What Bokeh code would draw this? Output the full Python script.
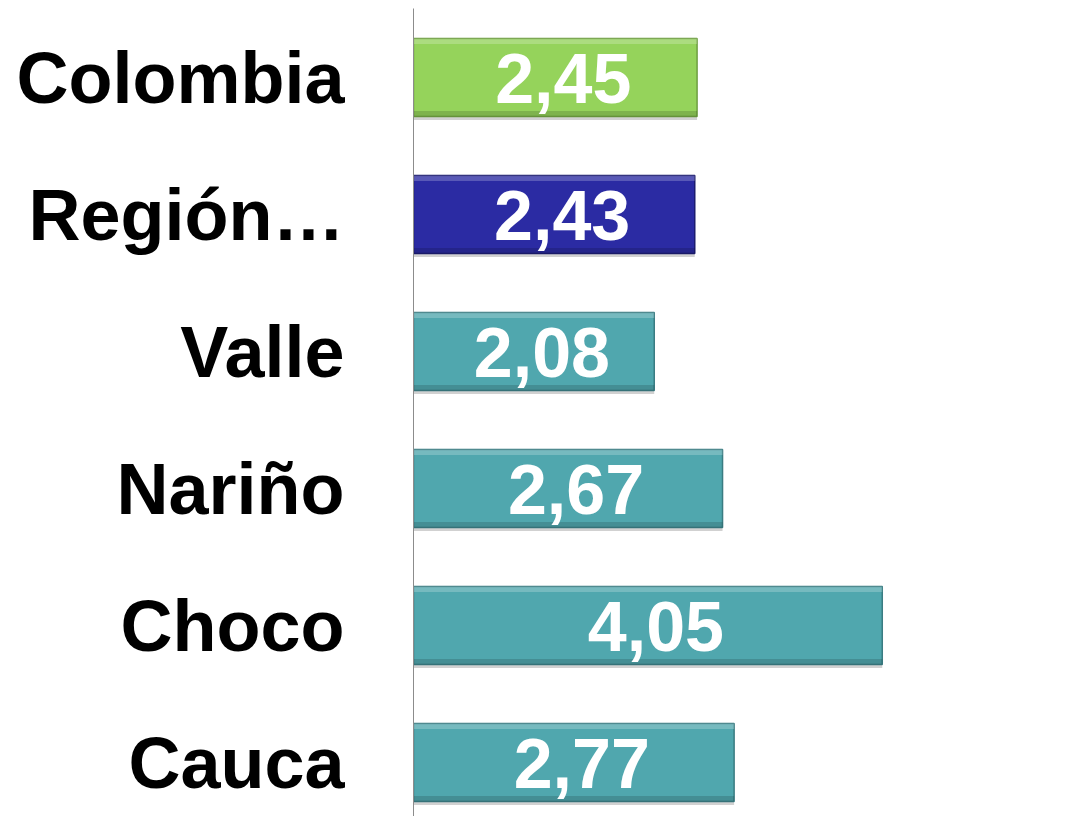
from bokeh.plotting import figure
from bokeh.models import ColumnDataSource, FixedTicker, Range1d
from bokeh.transform import dodge
from bokeh.core.properties import value
from bokeh.embed import file_html
from bokeh.resources import INLINE

categories = ["Colombia", "Región…", "Valle", "Nariño", "Choco", "Cauca"]
values = [2.45, 2.43, 2.08, 2.67, 4.05, 2.77]
colors = ["#95D35B", "#2B2BA3", "#50A7AE", "#50A7AE", "#50A7AE", "#50A7AE"]
edges = ["#6E9E40", "#1C1C70", "#3A7C82", "#3A7C82", "#3A7C82", "#3A7C82"]
labels = [f"{v:.2f}".replace(".", ",") for v in values]

# category index, top row highest
pos = list(range(len(categories)))[::-1]

src = ColumnDataSource(dict(
    cat=categories, y=pos, val=values, half=[v / 2 for v in values],
    color=colors, edge=edges, label=labels,
))

p = figure(
    width=1082, height=816,
    y_range=Range1d(-0.394, 5.504),
    x_range=Range1d(0, 5.78),
    output_backend="svg", toolbar_location=None,
    min_border_left=413, min_border_right=0, min_border_top=8, min_border_bottom=0,
)

H = 0.57
# soft shadow
p.hbar(y=dodge("y", -0.025), left=0, right="val", height=H,
       source=src, fill_color="#000000", fill_alpha=0.18, line_color=None)
p.hbar(y="y", left=0, right="val", height=H, source=src,
       fill_color="color", line_color="edge", line_width=1.5)
# bevel highlight / shade
p.hbar(y=dodge("y", H / 2 - 0.02), left=0, right="val", height=0.04,
       source=src, fill_color="#FFFFFF", fill_alpha=0.22, line_color=None)
p.hbar(y=dodge("y", -H / 2 + 0.02), left=0, right="val", height=0.04,
       source=src, fill_color="#000000", fill_alpha=0.15, line_color=None)

p.text(x="half", y="y", text="label", source=src, x_offset=8, y_offset=1,
       text_align="center", text_baseline="middle",
       text_font=value("Liberation Sans"), text_font_style="bold",
       text_font_size="70px", text_color="white")

p.xaxis.visible = False
p.xgrid.visible = False
p.ygrid.visible = False
p.outline_line_color = None

ax = p.yaxis[0]
ax.ticker = FixedTicker(ticks=pos)
ax.major_label_overrides = {y: c for y, c in zip(pos, categories)}
ax.axis_line_color = "#8C8C8C"
ax.axis_line_width = 1
ax.major_tick_in = 0
ax.major_tick_out = 0
ax.minor_tick_in = 0
ax.minor_tick_out = 0
ax.major_label_standoff = 69
ax.major_label_text_font = "Liberation Sans"
ax.major_label_text_font_style = "bold"
ax.major_label_text_font_size = "72px"
ax.major_label_text_color = "black"

open("out.html", "w").write(file_html(p, INLINE))
